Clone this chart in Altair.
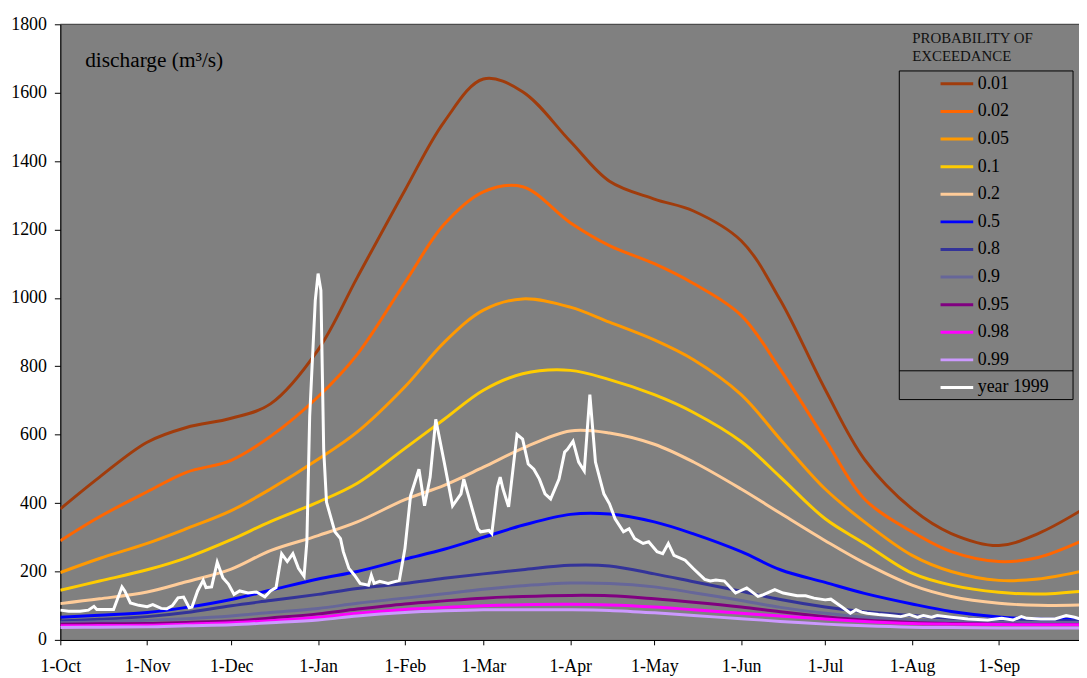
import altair as alt
import pandas as pd

# ---------------- data ----------------
SERIES = ["0.01", "0.02", "0.05", "0.1", "0.2", "0.5", "0.8", "0.9", "0.95", "0.98", "0.99"]
COLORS = ["#A03C0C", "#FF6600", "#FF9900", "#FFCC00", "#FFCC99", "#0000FF",
          "#333399", "#666699", "#800080", "#FF00FF", "#CC99FF"]
OBS_LABEL = "year 1999"
OBS_COLOR = "#FFFFFF"

# day offsets from 1-Oct-1998 at which the exceedance curves were read
curve_days = [0, 14, 31, 45, 61, 75, 92, 106, 123, 137, 151, 165, 182, 196, 212,
              226, 243, 257, 273, 287, 304, 318, 335, 349, 364]

q001 = [383, 476, 578, 621, 648, 690, 848, 1060, 1315, 1515, 1640, 1603, 1458, 1341, 1289,
        1254, 1167, 993, 732, 528, 383, 311, 276, 311, 377]
q002 = [290, 360, 433, 490, 525, 595, 711, 835, 1045, 1215, 1310, 1325, 1220, 1153, 1100,
        1042, 949, 790, 586, 412, 316, 258, 229, 241, 287]
q005 = [197, 238, 282, 325, 378, 441, 528, 608, 740, 870, 964, 997, 973, 929, 877,
        819, 717, 586, 441, 345, 247, 200, 174, 178, 200]
q01 = [145, 172, 205, 240, 293, 346, 403, 458, 560, 645, 730, 778, 788, 761, 717,
       665, 580, 476, 354, 282, 195, 160, 139, 134, 142]
q02 = [106, 120, 140, 170, 207, 261, 305, 345, 410, 452, 505, 560, 611, 605, 572,
       520, 441, 370, 290, 225, 160, 127, 107, 101, 102]
q05 = [66, 72, 80, 95, 118, 145, 178, 200, 236, 265, 300, 335, 367, 368, 345,
       310, 258, 205, 168, 136, 105, 83, 67, 61, 60]
q08 = [55, 60, 68, 80, 100, 115, 133, 150, 165, 180, 193, 205, 218, 216, 193,
       170, 142, 118, 96, 82, 71, 63, 58, 56, 56]
q09 = [50, 53, 57, 62, 70, 80, 92, 107, 122, 135, 148, 158, 166, 165, 155,
       138, 115, 95, 78, 66, 58, 54, 52, 51, 51]
q095 = [46, 47, 48, 51, 55, 64, 76, 90, 105, 114, 122, 127, 130, 129, 120,
        110, 96, 82, 68, 58, 51, 48, 46, 45, 45]
q098 = [41, 42, 43, 46, 50, 56, 66, 78, 89, 95, 100, 103, 104, 102, 96,
        88, 78, 70, 61, 54, 48, 46, 45, 44, 44]
q099 = [36, 37, 38, 41, 44, 50, 58, 70, 80, 85, 88, 88, 88, 86, 79,
        71, 62, 54, 46, 41, 37, 36, 35, 35, 35]
CURVES = [q001, q002, q005, q01, q02, q05, q08, q09, q095, q098, q099]

# observed hydrograph 1998/99 (day offset from 1-Oct-1998, m3/s)
obs_days = [0, 3, 7, 10, 12, 13, 19, 22, 23, 25,
            28, 31, 33, 36, 38, 40, 42, 44, 46, 47,
            49, 51, 52, 54, 56, 58, 60, 62, 64, 67,
            70, 73, 75, 77, 79, 81, 83, 85, 87, 88,
            89, 91, 92, 93, 94, 95, 98, 100, 101, 103,
            105, 107, 110, 111, 112, 114, 117, 121, 123, 125,
            128, 130, 132, 134, 137, 140, 143, 144, 146, 149,
            150, 153, 154, 156, 157, 158, 160, 163, 165, 167,
            169, 171, 173, 175, 178, 180, 181, 183, 185, 187,
            189, 191, 194, 196, 198, 201, 203, 205, 208, 210,
            213, 215, 217, 219, 223, 226, 230, 232, 234, 237,
            241, 245, 249, 251, 255, 258, 263, 266, 269, 273,
            275, 279, 282, 284, 286, 288, 292, 296, 300, 303,
            306, 308, 311, 313, 318, 324, 331, 336, 340, 343,
            345, 350, 355, 359, 362, 364]
obs_q = [87, 84, 84, 87, 98, 89, 89, 155, 143, 108,
         101, 97, 103, 92, 91, 100, 123, 125, 94, 96,
         143, 174, 153, 155, 227, 182, 163, 133, 143, 137,
         140, 126, 143, 153, 252, 229, 252, 209, 186, 287,
         654, 993, 1071, 1022, 557, 403, 316, 296, 258, 209,
         189, 165, 160, 189, 165, 171, 165, 174, 267, 421,
         499, 392, 476, 645, 520, 392, 427, 470, 412, 325,
         316, 320, 311, 447, 476, 441, 389, 601, 587, 514,
         499, 470, 427, 412, 470, 549, 557, 581, 520, 494,
         717, 520, 427, 398, 354, 316, 325, 296, 282, 287,
         258, 252, 282, 247, 233, 208, 177, 172, 175, 172,
         137, 152, 127, 132, 147, 137, 129, 129, 122, 117,
         119, 96, 78, 88, 81, 78, 74, 71, 68, 74,
         66, 71, 66, 71, 66, 61, 58, 63, 58, 68,
         63, 61, 61, 71, 66, 61]

Y_TICKS = [0, 200, 400, 600, 800, 1000, 1200, 1400, 1600, 1800]

# ---------------- tables ----------------
base = pd.Timestamp("1998-10-01")
rows = []
for name, vals in zip(SERIES, CURVES):
    for d, v in zip(curve_days, vals):
        rows.append({"date": base + pd.Timedelta(days=d), "q": v, "series": name})
curve_df = pd.DataFrame(rows)
obs_df = pd.DataFrame({
    "date": [base + pd.Timedelta(days=d) for d in obs_days],
    "q": obs_q,
    "series": OBS_LABEL,
})

# ---------------- layout ----------------
W, H = 1026, 620
FONT = "Liberation Serif"

x_scale = alt.Scale(domain=[alt.DateTime(year=1998, month=10, date=1),
                            alt.DateTime(year=1999, month=9, date=29, hours=14)])
y_scale = alt.Scale(domain=[0, 1800], nice=False)
tick_dates = ([alt.DateTime(year=1998, month=m, date=1) for m in (10, 11, 12)] +
              [alt.DateTime(year=1999, month=m, date=1) for m in range(1, 10)])

x_axis = alt.Axis(values=tick_dates, format="%-d-%b", title=None, grid=False,
                  tickSize=5, labelPadding=13, domainColor="black", tickColor="black",
                  domainWidth=1.2, labelFlush=False, labelOverlap=False)
y_axis = alt.Axis(values=Y_TICKS, format="d", title=None, grid=False, tickSize=6,
                  labelPadding=8, domainColor="black", tickColor="black", domainWidth=1.2)

legend = alt.Legend(title=None, orient="none", legendX=890, legendY=47, direction="vertical",
                    symbolType="M-1.43,0H1.43", symbolSize=529, symbolStrokeWidth=3,
                    labelFont=FONT, labelFontSize=18, labelColor="black",
                    rowPadding=5.8, labelOffset=8, padding=0)

color = alt.Color("series:N",
                  scale=alt.Scale(domain=SERIES + [OBS_LABEL], range=COLORS + [OBS_COLOR]),
                  sort=SERIES + [OBS_LABEL], legend=legend)

curves = alt.Chart(curve_df).mark_line(strokeWidth=3, interpolate="catmull-rom", clip=True).encode(
    x=alt.X("date:T", scale=x_scale, axis=x_axis),
    y=alt.Y("q:Q", scale=y_scale, axis=y_axis),
    color=color,
)
obs = alt.Chart(obs_df).mark_line(strokeWidth=3, clip=True).encode(
    x=alt.X("date:T", scale=x_scale, axis=x_axis),
    y=alt.Y("q:Q", scale=y_scale, axis=y_axis),
    color=color,
)

dummy = pd.DataFrame({"k": [0]})
top_border = alt.Chart(dummy).mark_rule(color="#333333", strokeWidth=1).encode(
    x=alt.value(0), x2=alt.value(W), y=alt.value(0))
ylabel = alt.Chart(dummy).mark_text(text="discharge (m³/s)", font=FONT, fontSize=21.5,
                                    align="left", baseline="middle", color="black").encode(
    x=alt.value(25), y=alt.value(37))
leg_title = alt.Chart(dummy).mark_text(text=["PROBABILITY OF", "EXCEEDANCE"], font=FONT,
                                       fontSize=15, lineHeight=18, align="left",
                                       baseline="top", color="#111111").encode(
    x=alt.value(858), y=alt.value(7))
leg_box = alt.Chart(dummy).mark_rect(filled=False, stroke="black", strokeWidth=1).encode(
    x=alt.value(845), x2=alt.value(1020), y=alt.value(47), y2=alt.value(378))
leg_sep = alt.Chart(dummy).mark_rule(color="black", strokeWidth=1).encode(
    x=alt.value(845), x2=alt.value(1020), y=alt.value(349))

chart = alt.layer(curves, obs, top_border, ylabel, leg_title, leg_box, leg_sep).properties(
    width=W, height=H,
    autosize=alt.AutoSizeParams(type="none"),
    padding={"left": 52.7, "top": 14, "right": 0, "bottom": 36},
    background="white",
).configure_view(fill="#808080", strokeWidth=0).configure_axis(
    labelFont=FONT, labelFontSize=18, labelColor="black"
)

chart.save("out.html", embed_options={"renderer": "svg", "actions": False})
